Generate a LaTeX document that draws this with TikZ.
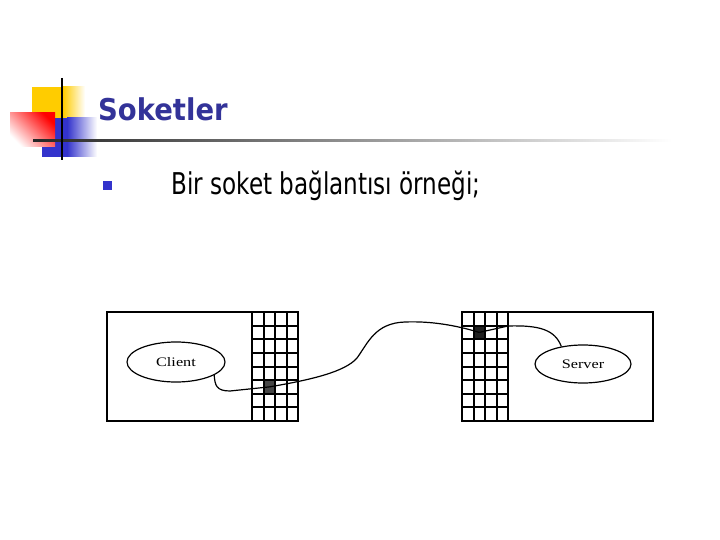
\documentclass[tikz,border=0pt]{standalone}
\usepackage{fontspec}
\usetikzlibrary{shapes.geometric}
\newfontfamily\titlefont[FakeStretch=0.915]{DejaVu Sans}
\newfontfamily\bodyfont[FakeStretch=0.77]{DejaVu Sans}
\newfontfamily\diagfont[FakeStretch=1.25]{Liberation Serif}
\definecolor{titleblue}{RGB}{51,51,153}
\definecolor{pixblue}{RGB}{51,51,204}
\definecolor{pixyellow}{RGB}{255,204,0}
\definecolor{pixred}{RGB}{255,0,0}
\begin{document}
\begin{tikzpicture}[x=1pt,y=-1pt,
  boxline/.style={line width=1.7pt},
  gridline/.style={line width=2pt},
  wire/.style={line width=1.2pt},
  endpoint/.style={ellipse, draw, line width=1.2pt, inner sep=0pt,
    font=\diagfont\fontsize{13}{15}\selectfont},
  cellnode/.style={rectangle, inner sep=0pt, minimum width=11.5pt, minimum height=13.6pt, draw=none}]
\useasboundingbox (0,0) rectangle (720,540);
\fill[white] (0,0) rectangle (720,540);

% --- title decoration ---
\fill[pixyellow] (32,87) rectangle (63.5,118);
\shade[left color=pixyellow, right color=white] (63,87) rectangle (85,118);
\fill[pixblue] (42,118) rectangle (67.5,157);
\shade[left color=pixblue, right color=white] (67,118) rectangle (97,157);
\shade[top color=pixred, bottom color=white, shading angle=-45] (10,113) rectangle (55,147);
\shade[left color=black!85, middle color=black!55, right color=white] (33,140) rectangle (672,142);
\draw[line width=2pt] (61.5,78) -- (61.5,160);

% --- title and bullet ---
\node[anchor=base west, inner sep=0pt, text=titleblue,
  font=\titlefont\fontsize{30}{36}\selectfont\bfseries] (title) at (98,121) {Soketler};
\node[rectangle, fill=pixblue, minimum size=9pt, inner sep=0pt] (bullet) at (107,186) {};
\node[anchor=base west, inner sep=0pt,
  font=\bodyfont\fontsize{30}{36}\selectfont] (bodytext) at (171,195) {Bir soket bağlantısı örneği;};

% --- dark socket cells ---
\node[cellnode, fill=black!72] (ccell) at (269.25,386.9) {};
\node[cellnode, fill=black!88] (scell) at (479.25,332.4) {};

% --- client box ---
\draw[boxline] (107,312) rectangle (298,421);
\foreach \gx in {252,263.5,275,286.5} \draw[gridline] (\gx,312) -- (\gx,421);
\foreach \k in {1,...,7} \draw[gridline] (252,312+\k*13.625) -- (298,312+\k*13.625);

% --- server box ---
\draw[boxline] (462,312) rectangle (653,421);
\foreach \gx in {473.5,485,496.5,508} \draw[gridline] (\gx,312) -- (\gx,421);
\foreach \k in {1,...,7} \draw[gridline] (462,312+\k*13.625) -- (508,312+\k*13.625);

% --- endpoints ---
\node[endpoint, minimum width=98pt, minimum height=40pt] (client) at (176,362) {Client};
\node[endpoint, minimum width=96pt, minimum height=38pt] (server) at (583,364) {Server};

% --- wires ---
\draw[wire] (client.-19) .. controls (215,385) and (216,391) .. (230,391) -- (ccell.center);
\draw[wire] (ccell.center) .. controls (310,380) and (345,372) .. (357,358)
  .. controls (368,343) and (375,323) .. (405,322)
  .. controls (430,321) and (455,325) .. (scell.center);
\draw[wire] (scell.center) -- (508,326) .. controls (540,325) and (555,330) .. (server.141);
\end{tikzpicture}
\end{document}
